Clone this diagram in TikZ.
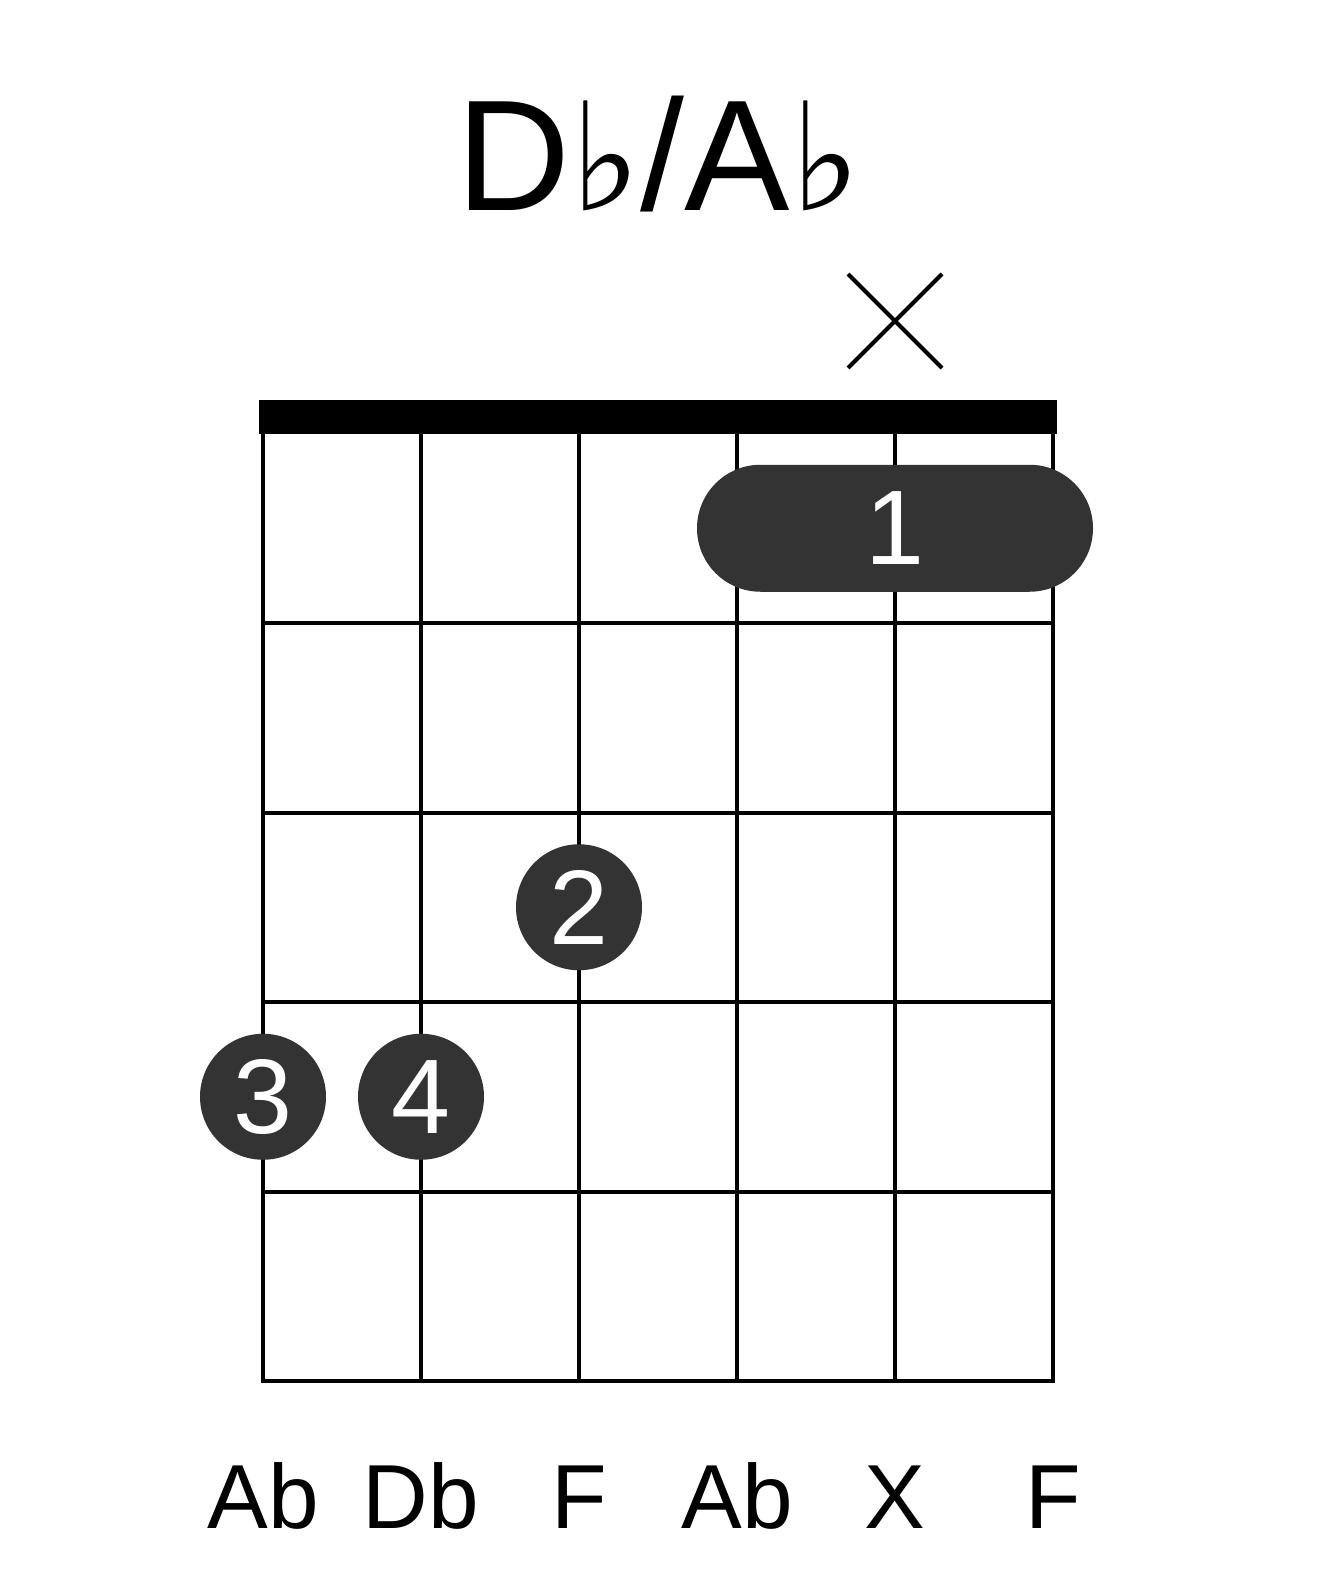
\documentclass[tikz,border=0pt]{standalone}
\usepackage{fontspec}
\setmainfont{Liberation Sans}
\newfontfamily\flatfont{DejaVu Sans}
\usetikzlibrary{positioning, calc}
\usepackage{xcolor}
\definecolor{fingergray}{RGB}{51,51,51}

\newcommand{\flatsign}{{\flatfont\fontsize{150}{150}\selectfont ♭}}

\begin{document}
\begin{tikzpicture}[x=1pt, y=-1pt,
  gridline/.style={line width=4pt},
  nutbar/.style={fill=black},
  finger/.style={circle, fill=fingergray, text=white, minimum size=126pt, inner sep=0pt, font=\fontsize{106}{106}\selectfont},
  barrebox/.style={rectangle, rounded corners=63.5pt, fill=fingergray, text=white, minimum width=396pt, minimum height=127pt, inner sep=0pt, font=\fontsize{106}{106}\selectfont},
  notelabel/.style={anchor=base, inner sep=0pt, font=\fontsize{91}{91}\selectfont},
  mutemark/.style={line width=4pt},
]
\def\sx{158}   % string spacing
\def\fy{189.5} % fret spacing
\def\xl{263}   % low string
\def\yn{433.5} % nut edge

\useasboundingbox[fill=white] (0,0) rectangle (1317,1581);

% Title
\node[anchor=base, inner sep=0pt, font=\fontsize{158}{158}\selectfont] (title) at (658.5, 210) {D\flatsign/A\flatsign};

% Mute mark on string 5
\coordinate (mute) at (\xl+4*\sx, 321);
\draw[mutemark] ($(mute)+(-47,-47)$) -- ($(mute)+(47,47)$);
\draw[mutemark] ($(mute)+(-47,47)$) -- ($(mute)+(47,-47)$);

% Nut
\fill[nutbar] (\xl-4, 400) rectangle (\xl+5*\sx+4, \yn);

% Strings
\draw[gridline] (\xl, \yn) -- (\xl, \yn+5*\fy);
\draw[gridline] (\xl+\sx, \yn) -- (\xl+\sx, \yn+5*\fy);
\draw[gridline] (\xl+2*\sx, \yn) -- (\xl+2*\sx, \yn+5*\fy);
\draw[gridline] (\xl+3*\sx, \yn) -- (\xl+3*\sx, \yn+5*\fy);
\draw[gridline] (\xl+4*\sx, \yn) -- (\xl+4*\sx, \yn+5*\fy);
\draw[gridline] (\xl+5*\sx, \yn) -- (\xl+5*\sx, \yn+5*\fy);

% Frets
\draw[gridline] (\xl-2, \yn+\fy) -- (\xl+5*\sx+2, \yn+\fy);
\draw[gridline] (\xl-2, \yn+2*\fy) -- (\xl+5*\sx+2, \yn+2*\fy);
\draw[gridline] (\xl-2, \yn+3*\fy) -- (\xl+5*\sx+2, \yn+3*\fy);
\draw[gridline] (\xl-2, \yn+4*\fy) -- (\xl+5*\sx+2, \yn+4*\fy);
\draw[gridline] (\xl-2, \yn+5*\fy) -- (\xl+5*\sx+2, \yn+5*\fy);

% Fingers
\node[barrebox] (barre) at (\xl+4*\sx, \yn+0.5*\fy) {1};
\node[finger] (f2) at (\xl+2*\sx, \yn+2.5*\fy) {2};
\node[finger] (f3) at (\xl, \yn+3.5*\fy) {3};
\node[finger] (f4) at (\xl+\sx, \yn+3.5*\fy) {4};

% Note names
\node[notelabel] (n1) at (\xl, 1528) {Ab};
\node[notelabel] (n2) at (\xl+\sx, 1528) {Db};
\node[notelabel] (n3) at (\xl+2*\sx, 1528) {F};
\node[notelabel] (n4) at (\xl+3*\sx, 1528) {Ab};
\node[notelabel] (n5) at (\xl+4*\sx, 1528) {X};
\node[notelabel] (n6) at (\xl+5*\sx, 1528) {F};
\end{tikzpicture}
\end{document}
